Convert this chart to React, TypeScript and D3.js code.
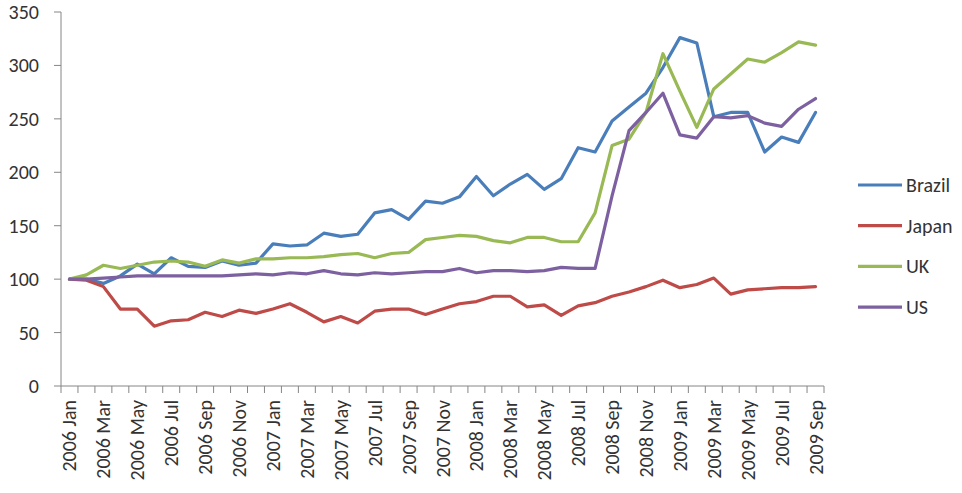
import React from "react";
import * as d3 from "d3";

const monthNames = ["Jan","Feb","Mar","Apr","May","Jun","Jul","Aug","Sep","Oct","Nov","Dec"];
const years = [2006, 2007, 2008, 2009];
const categories: string[] = years.flatMap(y => monthNames.map(m => `${y} ${m}`)).slice(0, 45);

const brazil = [100,100,96,103,114,105,120,112,111,117,113,115,133,131,132,143,140,142,162,165,156,173,171,177,196,178,189,198,184,194,223,219,248,261,274,298,326,321,252,256,256,219,233,228,256];
const japan = [100,99,93,72,72,56,61,62,69,65,71,68,72,77,69,60,65,59,70,72,72,67,72,77,79,84,84,74,76,66,75,78,84,88,93,99,92,95,101,86,90,91,92,92,93];
const uk = [100,104,113,110,113,116,117,116,112,118,115,119,119,120,120,121,123,124,120,124,125,137,139,141,140,136,134,139,139,135,135,162,225,231,256,311,276,242,278,292,306,303,312,322,319];
const us = [100,100,101,102,103,103,103,103,103,103,104,105,104,106,105,108,105,104,106,105,106,107,107,110,106,108,108,107,108,111,110,110,178,239,256,274,235,232,252,251,253,246,243,259,269];

const seriesNames = ["Brazil", "Japan", "UK", "US"];
const seriesValues = [brazil, japan, uk, us];
const colors = ["#4A7EBB", "#BE4B48", "#98B954", "#7D60A0"];
const yTicks = [0, 50, 100, 150, 200, 250, 300, 350];

export default function App() {
  const W = 962, H = 493;
  const left = 61, right = 824, top = 12, bottom = 386;
  const x = d3.scaleBand<string>().domain(categories).range([left, right]).padding(0);
  const y = d3.scaleLinear().domain([0, 350]).range([bottom, top]);
  const line = d3.line<number>()
    .x((_, i) => (x(categories[i]) as number) + x.bandwidth() / 2)
    .y(d => y(d));
  const font = "Carlito, Calibri, Lato, sans-serif";
  const axisColor = "#868686";
  const textColor = "#333";
  const fs = 20;
  const boundaries = d3.range(categories.length + 1).map(i => left + i * x.bandwidth());

  return (
    <svg width={W} height={H} style={{ position: "absolute", left: 0, top: 0, background: "#fff" }} fontFamily={font}>
      {/* y axis */}
      <line x1={left} x2={left} y1={top} y2={bottom} stroke={axisColor} strokeWidth={1} />
      {yTicks.map(t => (
        <g key={t}>
          <line x1={left - 7} x2={left} y1={y(t)} y2={y(t)} stroke={axisColor} />
          <text x={39} y={y(t)} dy="0.35em" textAnchor="end" fontSize={fs} fill={textColor}>{t}</text>
        </g>
      ))}
      {/* x axis */}
      <line x1={left} x2={right} y1={bottom} y2={bottom} stroke={axisColor} />
      {boundaries.map((bx, i) => (
        <line key={i} x1={bx} x2={bx} y1={bottom} y2={bottom + 7} stroke={axisColor} />
      ))}
      {categories.map((c, i) => i % 2 === 0 ? (
        <text key={c}
          transform={`translate(${(x(c) as number) + x.bandwidth() / 2},${bottom + 14}) rotate(-90)`}
          dy="0.35em" textAnchor="end" fontSize={fs} fill={textColor}>{c}</text>
      ) : null)}
      {/* lines */}
      {seriesValues.map((vals, k) => (
        <path key={seriesNames[k]} d={line(vals) || ""} fill="none" stroke={colors[k]} strokeWidth={3.2} strokeLinejoin="round" strokeLinecap="round" />
      ))}
      {/* legend */}
      {seriesNames.map((n, k) => (
        <g key={n} transform={`translate(858,${185 + k * 40.7})`}>
          <line x1={0} x2={44} y1={0} y2={0} stroke={colors[k]} strokeWidth={3.2} />
          <text x={48} y={0} dy="0.35em" fontSize={fs} fill={textColor}>{n}</text>
        </g>
      ))}
    </svg>
  );
}
